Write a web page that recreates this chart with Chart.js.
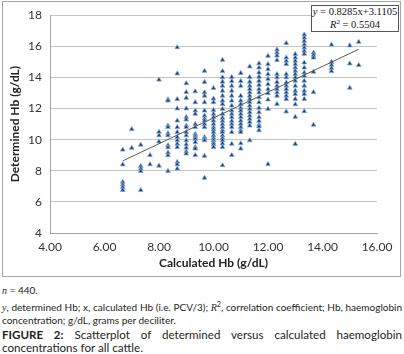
<!DOCTYPE html>
<html>
<head>
<meta charset="utf-8">
<script src="https://cdn.jsdelivr.net/npm/chart.js@4"></script>
<style>
  body { margin: 0; background: #fff; width: 404px; height: 354px; position: relative; overflow: hidden; font-family: Lato, "Open Sans", sans-serif; color: #231f20; }
  #frame { position: absolute; left: 2px; top: 1px; width: 397px; height: 274px; border: 1px solid #a6a6a6; }
  #wrap { position: absolute; left: 0; top: 0; width: 404px; height: 280px; }
  #eq { position: absolute; left: 311px; top: 5px; width: 86px; height: 25px; border: 1px solid #555; background: #fff; white-space: nowrap;
        font-family: "Liberation Serif", "DejaVu Serif", serif; font-size: 10.5px; line-height: 12.5px; text-align: center; color: #111; }
  .it { font-style: italic; font-family: "Liberation Serif", serif; }
  sup { font-size: 7px; line-height: 0; vertical-align: 4px; }
  #notes { position: absolute; left: 2px; top: 284px; width: 400px; font-size: 10px; line-height: 12px; }
  #notes p { margin: 0; text-align: justify; }
  #cap { position: absolute; left: 2px; top: 328px; width: 400px; font-size: 11.6px; line-height: 13px; text-align: justify; }
</style>
</head>
<body>
<div id="frame"></div>
<div id="wrap"><canvas id="grafico" width="404" height="280"></canvas></div>
<div id="eq"><span class="it">y</span> = 0.8285x+3.1105<br><span class="it">R</span><sup>2</sup> = 0.5504</div>
<div id="notes">
  <p style="margin-bottom:4px"><span class="it">n</span> = 440.</p>
  <p><span class="it">y</span>, determined Hb; x, calculated Hb (i.e. PCV/3); <span class="it">R</span><sup>2</sup>, correlation coefficient; Hb, haemoglobin concentration; g/dL, grams per deciliter.</p>
</div>
<div id="cap"><b>FIGURE 2:</b> Scatterplot of determined versus calculated haemoglobin concentrations for all cattle.</div>
<script>
// calculated Hb (x) columns and determined Hb (y) values read per column
const calcHb = [6.67, 7.00, 7.33, 7.67, 8.00, 8.33, 8.67, 9.00, 9.33, 9.67, 10.00, 10.33, 10.67,
    11.00, 11.33, 11.67, 12.00, 12.33, 12.67, 13.00, 13.33, 13.67, 14.33, 15.00, 15.33]
const detHb = [
    [9.35, 8.4, 7.28, 7.11, 6.94, 6.76],
    [10.67, 9.47],
    [9.67, 8.3, 8.14, 7.97, 6.75],
    [9.0, 8.41],
    [13.85, 10.5, 10.27, 9.87, 8.32],
    [12.59, 12.5, 10.9, 10.8, 10.41, 10.27, 9.63, 9.5, 9.16, 8.99, 7.98],
    [15.93, 14.25, 12.6, 12.0, 11.22, 10.8, 10.48, 10.16, 9.95, 9.73, 9.52, 8.56, 8.41, 8.13],
    [13.62, 13.05, 12.68, 12.0, 11.45, 11.29, 10.9, 10.8, 10.48, 10.27, 9.95, 9.69, 9.48, 9.24, 9.1],
    [13.1, 12.4, 11.86, 11.65, 11.0, 10.8, 10.37, 10.27, 10.16, 10.05, 9.84, 9.52, 9.42, 9.0],
    [14.42, 13.7, 13.03, 12.82, 12.4, 11.86, 11.54, 11.35, 11.22, 11.0, 10.8, 10.16, 10.05, 9.95, 8.95, 7.54],
    [13.31, 12.63, 12.4, 11.9, 11.65, 11.44, 11.22, 11.01, 10.8, 10.65, 10.48, 10.27, 10.1, 9.95, 9.8, 9.69, 9.52],
    [15.12, 14.4, 14.0, 13.72, 13.46, 13.14, 12.82, 12.5, 12.29, 11.97, 11.65, 11.4, 11.2, 11.0, 10.8, 10.6, 10.48, 10.27, 10.1, 9.95, 9.75, 9.52, 8.35],
    [14.02, 13.76, 13.46, 13.14, 12.82, 12.5, 12.18, 11.86, 11.65, 11.44, 11.2, 11.0, 10.8, 10.48, 9.73, 9.0],
    [14.28, 13.76, 13.46, 12.82, 12.5, 12.29, 12.04, 11.86, 11.65, 11.44, 11.22, 11.01, 10.8, 10.6, 10.48, 9.76, 9.42],
    [14.7, 14.02, 13.72, 13.46, 13.25, 13.03, 12.82, 12.61, 12.4, 12.18, 11.97, 11.76, 11.54, 11.33, 11.12, 10.9, 9.95],
    [14.9, 14.63, 14.31, 14.04, 13.78, 13.52, 13.25, 13.03, 12.72, 12.4, 12.04, 11.76, 11.44, 11.2, 10.95, 10.84, 10.6],
    [15.38, 14.85, 14.53, 14.21, 13.9, 13.57, 13.25, 12.98, 12.57, 11.97, 8.43],
    [15.78, 15.59, 15.4, 15.11, 14.21, 14.0, 13.7, 13.46, 13.25, 13.03, 12.82, 12.29],
    [16.2, 15.27, 15.06, 14.85, 14.21, 14.0, 13.67, 13.46, 13.25, 13.03, 12.82, 12.61, 11.8],
    [15.5, 15.27, 15.06, 14.85, 14.63, 14.42, 14.21, 14.0, 13.78, 13.46, 13.14, 12.93, 12.61, 12.27, 11.46, 9.72],
    [16.75, 16.55, 16.34, 16.12, 15.91, 15.7, 15.51, 14.95, 14.63, 14.31, 14.1, 13.78, 13.46, 13.14, 12.93, 12.61, 11.82],
    [15.59, 15.44, 15.27, 14.36, 13.05, 10.95],
    [16.1, 14.99, 14.8, 14.6, 14.4],
    [16.05, 14.89, 13.33],
    [16.28, 14.79]
]
const yTicks = [4, 6, 8, 10, 12, 14, 16, 18]
const xTicks = [4, 6, 8, 10, 12, 14, 16]
const slope = 0.8285
const intercept = 3.1105

const pontos = []
calcHb.forEach((x, i) => {
    detHb[i].forEach(y => pontos.push({ x: x, y: y }))
})

const xMin = calcHb[0]
const xMax = calcHb[calcHb.length - 1]
const tendencia = [
    { x: xMin, y: slope * xMin + intercept },
    { x: xMax, y: slope * xMax + intercept }
]

let myChartHb = new Chart(
    document.getElementById("grafico"),
    {
        type: "scatter",
        data: {
            datasets: [
                {
                    label: "Hb",
                    data: pontos,
                    pointStyle: "triangle",
                    pointRadius: 2.7,
                    pointBackgroundColor: "#1f3b6b",
                    pointBorderColor: "#7fa9da",
                    pointBorderWidth: 0.8,
                    order: 1
                },
                {
                    type: "line",
                    label: "trend",
                    data: tendencia,
                    borderColor: "#5a5a5a",
                    borderWidth: 1,
                    pointRadius: 0,
                    fill: false,
                    order: 0
                }
            ]
        },
        options: {
            responsive: false,
            animation: false,
            layout: { padding: { top: 14, right: 27, left: 0, bottom: 0 } },
            plugins: {
                legend: { display: false },
                tooltip: { enabled: false }
            },
            scales: {
                x: {
                    type: "linear",
                    min: 4,
                    max: 16,
                    afterBuildTicks: s => { s.ticks = xTicks.map(v => ({ value: v })) },
                    afterFit: s => { s.height = 47 },
                    grid: { display: false, drawTicks: false },
                    border: { display: true, color: "#a6a6a6" },
                    ticks: {
                        padding: 7,
                        color: "#333",
                        font: { family: "Lato", size: 12 },
                        callback: v => Number(v).toFixed(2)
                    },
                    title: {
                        display: true,
                        text: "Calculated Hb (g/dL)",
                        color: "#222",
                        font: { family: "Lato", size: 12, weight: "bold" },
                        padding: { top: 0, bottom: 10 }
                    }
                },
                y: {
                    min: 4,
                    max: 18,
                    afterBuildTicks: s => { s.ticks = yTicks.map(v => ({ value: v })) },
                    afterFit: s => { s.width = 50 },
                    grid: { color: "#c4c4c4", drawTicks: false },
                    border: { display: true, color: "#a6a6a6" },
                    ticks: {
                        padding: 8,
                        color: "#333",
                        font: { family: "Lato", size: 12 }
                    },
                    title: {
                        display: true,
                        text: "Determined Hb (g/dL)",
                        color: "#222",
                        font: { family: "Lato", size: 12, weight: "bold" },
                        padding: { top: 8, bottom: 0 }
                    }
                }
            }
        }
    }
)
</script>
</body>
</html>
